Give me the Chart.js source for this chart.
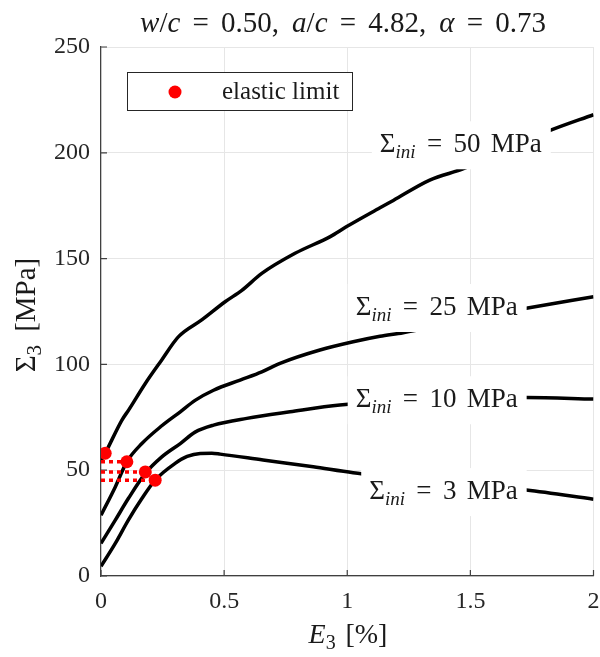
<!DOCTYPE html>
<html>
<head>
<meta charset="utf-8">
<script src="https://cdn.jsdelivr.net/npm/chart.js@4"></script>
<style>
  body { margin: 0; background: #fff; }
  #wrap { width: 600px; height: 657px; }
</style>
</head>
<body>
<div id="wrap"><canvas id="chart" width="600" height="657"></canvas></div>
<script>
// --- Data: axial strain E3 [%] vs axial stress Sigma3 [MPa] ---
const sigmaIni = [50, 25, 10, 3];

const strain50 = [0, 0.017, 0.085, 0.112, 0.18, 0.246, 0.314, 0.409, 0.504, 0.572, 0.653, 0.788, 0.931, 0.996, 1.133, 1.187, 1.335, 1.477, 1.65, 1.829, 2.0];
const stress50 = [54.5, 58, 73.7, 78.4, 91, 102, 113, 121, 129.6, 135, 143, 152.5, 160.4, 165, 174, 177.5, 187.1, 192.7, 202, 210.8, 218];

const strain25 = [0, 0.058, 0.105, 0.166, 0.247, 0.322, 0.382, 0.457, 0.565, 0.653, 0.727, 0.889, 1.024, 1.133, 1.227, 1.45, 1.727, 2.0];
const stress25 = [28.7, 42.1, 54, 62.6, 71, 77.6, 83, 87.8, 92.6, 96.5, 100.5, 106.8, 110.7, 113.3, 115, 120.5, 126.5, 132];

const strain10 = [0, 0.058, 0.111, 0.18, 0.247, 0.322, 0.382, 0.457, 0.592, 0.768, 0.97, 1.2, 1.45, 1.727, 2.0];
const stress10 = [15.4, 26.4, 36.6, 48.5, 56.3, 62.6, 68, 71.3, 74.5, 77.6, 80.8, 82.5, 83.8, 84.4, 83.6];

const strain3 = [0, 0.058, 0.111, 0.166, 0.22, 0.301, 0.35, 0.403, 0.45, 0.484, 0.658, 0.862, 1.024, 1.3, 1.727, 2.0];
const stress3 = [4.6, 15.4, 26.4, 36.6, 45.3, 53.2, 56.5, 57.9, 58, 57.6, 54.8, 51.6, 48.8, 45.4, 40.6, 36.3];

// elastic limit of each curve
const elasticStrain = [0.017, 0.105, 0.18, 0.22];
const elasticStress = [58, 54, 49.2, 45.3];

// curve labels: right edge (strain) and vertical centre (stress)
const labelRight = [1.79, 1.692, 1.692, 1.692];
const labelMid = [204.5, 127.6, 84, 40.6];

const SERIF = '"Liberation Serif", "DejaVu Serif", serif';
const INK = '#1a1a1a';

function pts(xs, ys) {
    return xs.map((x, i) => ({ x: x, y: ys[i] }));
}

// --- rich text (italic / subscript runs) ---
function runFont(p, size) {
    const s = p.sub ? Math.round(size * 0.72) : size;
    return (p.i ? 'italic ' : '') + s + 'px ' + SERIF;
}

function runWidth(ctx, p, size) {
    if (p.gap) return p.gap * size;
    ctx.font = runFont(p, size);
    return ctx.measureText(p.t).width;
}

function drawRich(ctx, parts, x, y, size, align) {
    let w = 0;
    parts.forEach(p => { w += runWidth(ctx, p, size); });
    let cx = align === 'right' ? x - w : (align === 'center' ? x - w / 2 : x);
    const left = cx;
    ctx.textBaseline = 'alphabetic';
    ctx.textAlign = 'left';
    parts.forEach(p => {
        const pw = runWidth(ctx, p, size);
        if (!p.gap) {
            ctx.font = runFont(p, size);
            ctx.fillText(p.t, cx, y + (p.sub ? size * 0.22 : 0));
        }
        cx += pw;
    });
    return { left: left, right: cx };
}

// "=" with math spacing on both sides
function eq(parts) {
    return [{ gap: 0.42 }, { t: '=' }, { gap: 0.42 }].concat(parts);
}

// --- datasets ---
const curves = [[strain50, stress50], [strain25, stress25], [strain10, stress10], [strain3, stress3]];

const datasets = [];
curves.forEach((c, i) => {
    datasets.push({
        label: 'Sigma_ini = ' + sigmaIni[i] + ' MPa',
        data: pts(c[0], c[1]),
        showLine: true,
        borderColor: '#000',
        borderWidth: 3.5,
        pointRadius: 0,
        cubicInterpolationMode: 'monotone',
        order: 3
    });
});

elasticStrain.forEach((e, i) => {
    datasets.push({
        label: 'elastic guide',
        data: [{ x: 0, y: elasticStress[i] }, { x: e, y: elasticStress[i] }],
        showLine: true,
        borderColor: '#ff0000',
        borderWidth: 3.5,
        borderDash: [4, 4],
        pointRadius: 0,
        order: 2
    });
});

datasets.push({
    label: 'elastic limit',
    data: pts(elasticStrain, elasticStress),
    showLine: false,
    pointRadius: 6.5,
    pointBackgroundColor: '#ff0000',
    pointBorderWidth: 0,
    order: 1
});

// --- plugins ---
const whiteBg = {
    id: 'whiteBg',
    beforeDraw(chart) {
        const ctx = chart.ctx;
        ctx.save();
        ctx.fillStyle = '#fff';
        ctx.fillRect(0, 0, chart.width, chart.height);
        ctx.restore();
    }
};

// inward tick marks on the left and bottom axes
const innerTicks = {
    id: 'innerTicks',
    beforeDatasetsDraw(chart) {
        const ctx = chart.ctx;
        const area = chart.chartArea;
        const xs = chart.scales.x, ys = chart.scales.y;
        ctx.save();
        ctx.strokeStyle = '#404040';
        ctx.lineWidth = 1.2;
        ctx.beginPath();
        xs.ticks.forEach(t => {
            const px = xs.getPixelForValue(t.value);
            ctx.moveTo(px, area.bottom);
            ctx.lineTo(px, area.bottom - 6);
        });
        ys.ticks.forEach(t => {
            const py = ys.getPixelForValue(t.value);
            ctx.moveTo(area.left, py);
            ctx.lineTo(area.left + 6, py);
        });
        ctx.stroke();
        ctx.restore();
    }
};

const annotations = {
    id: 'annotations',
    afterDraw(chart) {
        const ctx = chart.ctx;
        const area = chart.chartArea;
        const xs = chart.scales.x, ys = chart.scales.y;
        ctx.save();
        ctx.fillStyle = INK;

        // curve labels on white boxes
        sigmaIni.forEach((v, i) => {
            const size = 27;
            const parts = [{ t: 'Σ' }, { t: 'ini', i: true, sub: true }].concat(eq([{ t: String(v) }, { gap: 0.38 }, { t: 'MPa' }]));
            const rx = xs.getPixelForValue(labelRight[i]);
            const my = ys.getPixelForValue(labelMid[i]);
            let w = 0;
            parts.forEach(p => { w += runWidth(ctx, p, size); });
            ctx.fillStyle = '#fff';
            ctx.fillRect(rx - w - 8, my - 22, w + 17, 48);
            ctx.fillStyle = INK;
            drawRich(ctx, parts, rx, my + 9, size, 'right');
        });

        // legend
        const lx = area.left + 26, ly = area.top + 25;
        ctx.fillStyle = '#fff';
        ctx.fillRect(lx, ly, 225, 38);
        ctx.strokeStyle = '#262626';
        ctx.lineWidth = 1;
        ctx.strokeRect(lx + 0.5, ly + 0.5, 225, 38);
        ctx.fillStyle = '#ff0000';
        ctx.beginPath();
        ctx.arc(lx + 48, ly + 20, 6.5, 0, Math.PI * 2);
        ctx.fill();
        ctx.fillStyle = INK;
        drawRich(ctx, [{ t: 'elastic limit' }], lx + 95, ly + 27, 25, 'left');

        // title
        const title = [{ t: 'w', i: true }, { t: '/' }, { t: 'c', i: true }]
            .concat(eq([{ t: '0.50,' }, { gap: 0.45 }, { t: 'a', i: true }, { t: '/' }, { t: 'c', i: true }]))
            .concat(eq([{ t: '4.82,' }, { gap: 0.45 }, { t: 'α', i: true }]))
            .concat(eq([{ t: '0.73' }]));
        drawRich(ctx, title, 343, 32, 29, 'center');

        // axis titles
        drawRich(ctx, [{ t: 'E', i: true }, { t: '3', sub: true }, { gap: 0.35 }, { t: '[%]' }], 348, 643, 28, 'center');
        ctx.translate(35, 315);
        ctx.rotate(-Math.PI / 2);
        drawRich(ctx, [{ t: 'Σ' }, { t: '3', sub: true }, { gap: 0.45 }, { t: '[MPa]' }], 0, 0, 29, 'center');
        ctx.restore();
    }
};

const tickFont = { family: SERIF, size: 24 };

new Chart(document.getElementById('chart'), {
    type: 'scatter',
    data: { datasets: datasets },
    options: {
        responsive: false,
        animation: false,
        devicePixelRatio: 1,
        layout: { padding: { top: 47, right: 0, left: 0, bottom: 0 } },
        plugins: {
            legend: { display: false },
            tooltip: { enabled: false }
        },
        scales: {
            x: {
                type: 'linear',
                min: 0,
                max: 2,
                ticks: {
                    stepSize: 0.5,
                    font: tickFont,
                    color: '#262626',
                    padding: 11,
                    maxRotation: 0,
                    callback: v => String(+v.toFixed(1))
                },
                grid: { color: '#e6e6e6', drawTicks: false },
                border: { color: '#404040', width: 1.2 },
                afterFit(s) {
                    s.height = 81;
                    s.paddingLeft = 0;
                    s.paddingRight = 6;
                }
            },
            y: {
                type: 'linear',
                min: 0,
                max: 250,
                ticks: { stepSize: 50, font: tickFont, color: '#262626', padding: 11 },
                grid: { color: '#e6e6e6', drawTicks: false },
                border: { color: '#404040', width: 1.2 },
                afterFit(s) { s.width = 101; }
            }
        }
    },
    plugins: [whiteBg, innerTicks, annotations]
});
</script>
</body>
</html>
